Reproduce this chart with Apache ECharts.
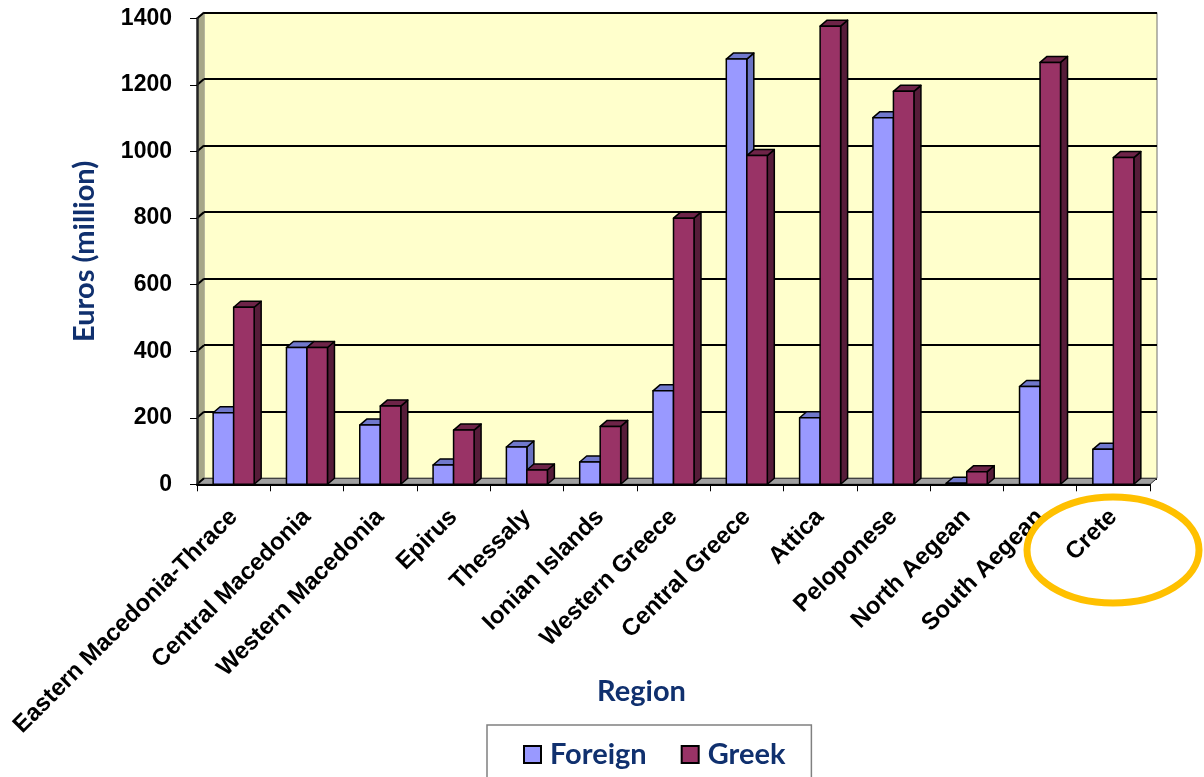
<!DOCTYPE html>
<html><head><meta charset="utf-8">
<script src="https://cdn.jsdelivr.net/npm/echarts@6/dist/echarts.min.js"></script>
<style>html,body{margin:0;padding:0;background:#fff}#c{width:1204px;height:777px}</style>
</head><body><div id="c"></div>
<script>
const categories = ['Eastern Macedonia-Thrace','Central Macedonia','Western Macedonia','Epirus','Thessaly','Ionian Islands','Western Greece','Central Greece','Attica','Peloponese','North Aegean','South Aegean','Crete'];
const foreign = [215, 411, 178, 58, 112, 67, 281, 1278, 200, 1102, 3, 294, 105];
const greek   = [532, 411, 235, 163, 43, 174, 800, 988, 1377, 1181, 38, 1268, 982];
const seriesNames = ['Foreign', 'Greek'];
const yMin = 0, yMax = 1400, yStep = 200;

const DX = 7, DY = -6, BW = 20.5;
const NAVY = '#10306e';
const colors = {
  Foreign: {front: '#9999FF', top: '#7078CC', side: '#6A72C2'},
  Greek:   {front: '#993366', top: '#6E2448', side: '#561C39'}
};

function barRender(idx, c) {
  return function (params, api) {
    const ci = api.value(0), v = api.value(1);
    const base = api.coord([ci, 0]);
    const p = api.coord([ci, v]);
    const x0 = base[0] + (idx === 0 ? -BW : 0);
    const x1 = x0 + BW;
    const y0 = p[1], y1 = base[1];
    const st = {stroke: '#000', lineWidth: 1.5, lineJoin: 'round'};
    return {type: 'group', children: [
      {type: 'polygon', shape: {points: [[x1, y0], [x1 + DX, y0 + DY], [x1 + DX, y1 + DY], [x1, y1]]}, style: Object.assign({fill: c.side}, st)},
      {type: 'polygon', shape: {points: [[x0, y0], [x0 + DX, y0 + DY], [x1 + DX, y0 + DY], [x1, y0]]}, style: Object.assign({fill: c.top}, st)},
      {type: 'rect', shape: {x: x0, y: y0, width: BW, height: y1 - y0}, style: Object.assign({fill: c.front}, st)}
    ]};
  };
}

function wallRender(params, api) {
  const cs = params.coordSys;
  const x = cs.x, y = cs.y, w = cs.width, h = cs.height;
  const children = [
    {type: 'polygon', shape: {points: [[x, y + h], [x, y], [x + DX, y + DY], [x + DX, y + h + DY]]}, style: {fill: '#A6A688', stroke: null}},
    {type: 'polygon', shape: {points: [[x, y + h], [x + DX, y + h + DY], [x + w + DX, y + h + DY], [x + w, y + h]]}, style: {fill: '#A0A0A0', stroke: '#333', lineWidth: 1}}
  ];
  for (let v = yMin; v <= yMax; v += yStep) {
    const py = api.coord([0, v])[1];
    children.push({type: 'line', shape: {x1: x, y1: py, x2: x + DX, y2: py + DY}, style: {stroke: '#000', lineWidth: 2}});
  }
  return {type: 'group', children: children};
}

const chart = echarts.init(document.getElementById('c'), null, {renderer: 'canvas'});
const labelFont = '"Liberation Sans", Arial, sans-serif';
const titleFont = 'Lato, "Open Sans", sans-serif';

chart.setOption({
  backgroundColor: '#ffffff',
  animation: false,
  grid: [
    {left: 197, right: 54, top: 18.5, bottom: 292.7},
    {left: 204, right: 47, top: 12.5, bottom: 298.7, show: true, backgroundColor: '#FFFFCC', borderColor: '#707070', borderWidth: 1}
  ],
  xAxis: [
    {type: 'category', gridIndex: 0, data: categories,
     axisLine: {show: true, lineStyle: {color: '#000', width: 2}},
     axisTick: {show: true, length: 7, lineStyle: {color: '#000', width: 1}},
     axisLabel: {interval: 0, rotate: 45, margin: 29, fontSize: 24, fontWeight: 'bold', color: '#000', fontFamily: labelFont},
     name: 'Region', nameLocation: 'middle', nameGap: 193, nameMoveOverlap: false,
     nameTextStyle: {fontSize: 29, fontWeight: 'bold', color: NAVY, fontFamily: titleFont, padding: [0, 64, 0, 0]},
     z: 5},
    {type: 'category', gridIndex: 1, data: categories, show: false}
  ],
  yAxis: [
    {type: 'value', gridIndex: 0, min: yMin, max: yMax, interval: yStep,
     axisLine: {show: true, lineStyle: {color: '#222', width: 2.5}},
     axisTick: {show: true, length: 7, lineStyle: {color: '#000', width: 1}},
     splitLine: {show: false},
     axisLabel: {margin: 25, fontSize: 23, fontWeight: 'bold', color: '#000', fontFamily: labelFont,
                 formatter: v => String(v)},
     name: 'Euros (million)', nameLocation: 'middle', nameGap: 98, nameRotate: 90, nameMoveOverlap: false,
     nameTextStyle: {fontSize: 29, fontWeight: 'bold', color: NAVY, fontFamily: titleFont},
     z: 5},
    {type: 'value', gridIndex: 1, min: yMin, max: yMax, interval: yStep,
     axisLine: {show: false}, axisTick: {show: false}, axisLabel: {show: false},
     splitLine: {show: true, lineStyle: {color: '#000', width: 2}}}
  ],
  legend: {
    data: seriesNames, left: 487, top: 725, orient: 'horizontal',
    icon: 'rect', itemWidth: 17, itemHeight: 17, itemGap: 34,
    padding: [15, 26, 40, 36],
    backgroundColor: '#fff', borderColor: '#808080', borderWidth: 1.5, borderRadius: 0,
    itemStyle: {borderColor: '#000', borderWidth: 2},
    textStyle: {fontSize: 29, fontWeight: 'bold', color: NAVY, fontFamily: titleFont, padding: [0, 0, 0, 4]}
  },
  graphic: [
    {type: 'ellipse', shape: {cx: 1113, cy: 550, rx: 86, ry: 53}, style: {fill: null, stroke: '#FFC000', lineWidth: 7}, z: 100}
  ],
  series: [
    {type: 'custom', name: '_walls', xAxisIndex: 0, yAxisIndex: 0, clip: false, silent: true, z: 1,
     renderItem: wallRender, data: [[0, 0]], encode: {x: 0, y: 1}},
    {type: 'custom', name: seriesNames[0], xAxisIndex: 0, yAxisIndex: 0, z: 2,
     itemStyle: {color: colors.Foreign.front},
     renderItem: barRender(0, colors.Foreign), encode: {x: 0, y: 1},
     data: foreign.map((v, i) => [i, v])},
    {type: 'custom', name: seriesNames[1], xAxisIndex: 0, yAxisIndex: 0, z: 3,
     itemStyle: {color: colors.Greek.front},
     renderItem: barRender(1, colors.Greek), encode: {x: 0, y: 1},
     data: greek.map((v, i) => [i, v])}
  ]
});
</script>
</body></html>
